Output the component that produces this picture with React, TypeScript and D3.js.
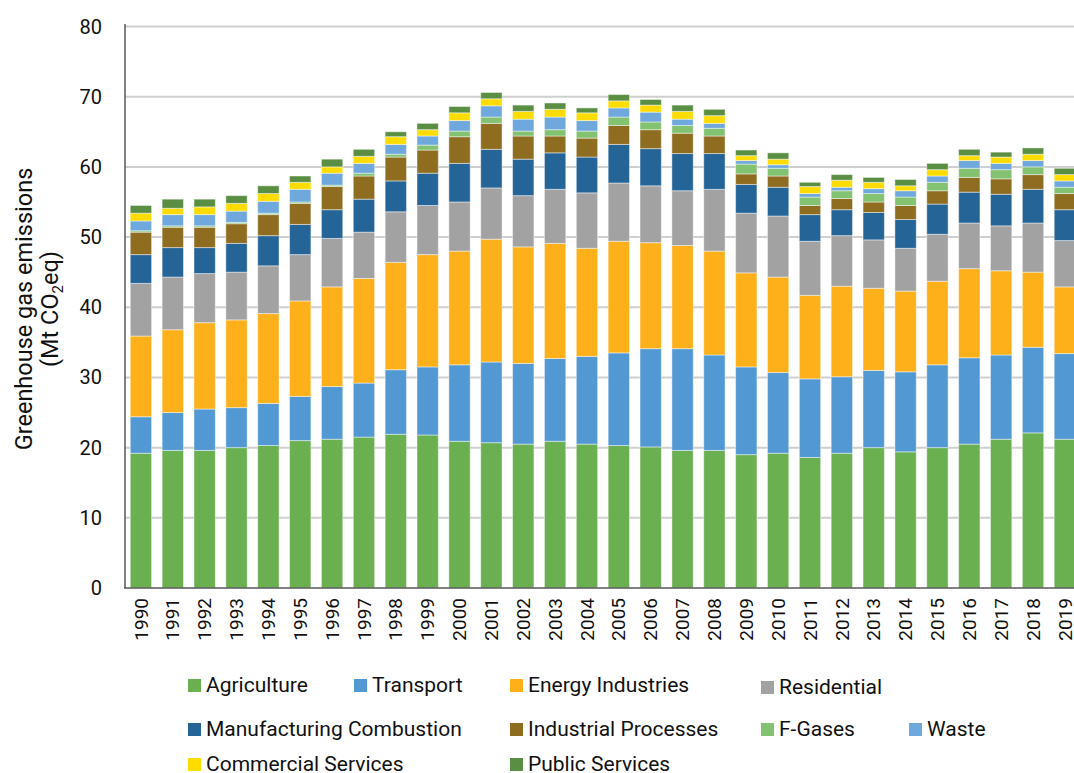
import React from "react";
import * as d3 from "d3";

const years = [
  "1990", "1991", "1992", "1993", "1994", "1995", "1996", "1997", "1998", "1999",
  "2000", "2001", "2002", "2003", "2004", "2005", "2006", "2007", "2008", "2009",
  "2010", "2011", "2012", "2013", "2014", "2015", "2016", "2017", "2018", "2019",
];

const agriculture = [19.2, 19.6, 19.6, 20.0, 20.3, 21.0, 21.2, 21.5, 21.9, 21.8, 20.9, 20.7, 20.5, 20.9, 20.5, 20.3, 20.1, 19.6, 19.6, 19.0, 19.2, 18.6, 19.2, 20.0, 19.4, 20.0, 20.5, 21.2, 22.1, 21.2];
const transport = [5.2, 5.4, 5.9, 5.7, 6.0, 6.3, 7.5, 7.7, 9.2, 9.7, 10.9, 11.5, 11.5, 11.8, 12.5, 13.2, 14.0, 14.5, 13.6, 12.5, 11.5, 11.2, 10.9, 11.0, 11.4, 11.8, 12.3, 12.0, 12.2, 12.2];
const energyIndustries = [11.5, 11.8, 12.3, 12.5, 12.8, 13.6, 14.2, 14.9, 15.3, 16.0, 16.2, 17.5, 16.6, 16.4, 15.4, 15.9, 15.1, 14.7, 14.8, 13.4, 13.6, 11.9, 12.9, 11.7, 11.5, 11.9, 12.7, 12.0, 10.7, 9.5];
const residential = [7.5, 7.5, 7.0, 6.8, 6.8, 6.6, 6.9, 6.6, 7.2, 7.0, 7.0, 7.3, 7.3, 7.7, 7.9, 8.3, 8.1, 7.8, 8.8, 8.5, 8.7, 7.7, 7.2, 6.9, 6.1, 6.7, 6.5, 6.4, 7.0, 6.6];
const manufacturing = [4.1, 4.2, 3.7, 4.1, 4.3, 4.3, 4.1, 4.7, 4.4, 4.6, 5.5, 5.5, 5.2, 5.2, 5.1, 5.5, 5.3, 5.3, 5.1, 4.1, 4.1, 3.8, 3.7, 3.9, 4.1, 4.3, 4.4, 4.5, 4.8, 4.4];
const industrialProcesses = [3.2, 2.9, 2.9, 2.8, 3.0, 3.0, 3.3, 3.3, 3.4, 3.3, 3.8, 3.7, 3.3, 2.4, 2.7, 2.7, 2.7, 2.9, 2.5, 1.5, 1.6, 1.3, 1.6, 1.5, 2.0, 1.9, 2.1, 2.2, 2.1, 2.3];
const fGases = [0.2, 0.2, 0.2, 0.2, 0.2, 0.2, 0.2, 0.4, 0.4, 0.7, 0.8, 0.9, 0.7, 0.9, 1.0, 1.2, 1.1, 1.1, 1.1, 1.4, 1.1, 1.2, 1.1, 1.2, 1.2, 1.2, 1.3, 1.3, 1.1, 0.9];
const waste = [1.4, 1.6, 1.6, 1.6, 1.7, 1.8, 1.7, 1.4, 1.4, 1.3, 1.5, 1.6, 1.7, 1.8, 1.5, 1.3, 1.4, 0.9, 0.7, 0.5, 0.5, 0.5, 0.5, 0.7, 0.9, 0.9, 1.1, 0.9, 0.9, 0.9];
const commercialServices = [1.1, 0.9, 1.1, 1.1, 1.1, 1.0, 0.9, 1.0, 1.1, 0.9, 1.1, 1.0, 1.1, 1.1, 1.1, 1.0, 1.0, 1.1, 1.1, 0.7, 0.8, 1.0, 1.0, 0.9, 0.7, 0.9, 0.7, 0.9, 0.9, 0.9];
const publicServices = [1.1, 1.3, 1.1, 1.1, 1.1, 0.9, 1.1, 1.0, 0.7, 0.9, 0.9, 0.9, 0.9, 0.9, 0.7, 0.9, 0.8, 0.9, 0.9, 0.8, 0.9, 0.6, 0.8, 0.7, 0.9, 0.9, 0.9, 0.7, 0.9, 0.9];

const seriesNames = [
  "Agriculture", "Transport", "Energy Industries", "Residential", "Manufacturing Combustion",
  "Industrial Processes", "F-Gases", "Waste", "Commercial Services", "Public Services",
];
const seriesValues = [
  agriculture, transport, energyIndustries, residential, manufacturing,
  industrialProcesses, fGases, waste, commercialServices, publicServices,
];
const colors = [
  "#6aaf50", "#5299d3", "#fdb019", "#a2a2a2", "#256496",
  "#8e6d21", "#82c270", "#6fa8dc", "#ffdc00", "#5a8e43",
];
const yTicks = [0, 10, 20, 30, 40, 50, 60, 70, 80];

// legend layout: [column x, row y] per series
const legendPos: [number, number][] = [
  [188, 685], [354, 685], [510, 685], [761, 687],
  [188, 729], [510, 729], [761, 729], [909, 729],
  [188, 764], [510, 764],
];

const W = 1074;
const H = 773;
const FONT = "Roboto, 'DejaVu Sans', sans-serif";

export default function App() {
  const x = d3.scaleBand<string>()
    .domain(years)
    .range([125, 125 + 30 * 31.86])
    .paddingInner(0.33)
    .paddingOuter(0.165);
  const y = d3.scaleLinear().domain([0, 80]).range([588, 26.5]);

  const table = years.map((yr, i) => {
    const row: Record<string, any> = { year: yr };
    seriesNames.forEach((n, k) => (row[n] = seriesValues[k][i]));
    return row;
  });
  const stacked = d3.stack<any>().keys(seriesNames)(table);

  return (
    <svg width={W} height={H} style={{ position: "absolute", left: 0, top: 0, background: "#fff" }} fontFamily={FONT}>
      {yTicks.filter((t) => t > 0).map((t) => (
        <line key={t} x1={125} x2={W} y1={y(t)} y2={y(t)} stroke="#cfcfcf" strokeWidth={2} />
      ))}
      {stacked.map((s, k) => (
        <g key={s.key} fill={colors[k]}>
          {s.map((d, i) => (
            <rect
              key={i}
              x={x(years[i])}
              width={x.bandwidth()}
              y={y(d[1])}
              height={Math.max(0, y(d[0]) - y(d[1]))}
              stroke="#ffffff"
              strokeOpacity={0.45}
              strokeWidth={1}
            />
          ))}
        </g>
      ))}
      <line x1={125} x2={125} y1={24} y2={588} stroke="#595959" strokeWidth={1.5} />
      <line x1={124} x2={W} y1={588} y2={588} stroke="#595959" strokeWidth={1.5} />
      {yTicks.map((t) => (
        <text key={t} x={102} y={y(t)} dy="0.35em" textAnchor="end" fontSize={20} fill="#111">
          {t}
        </text>
      ))}
      {years.map((yr) => (
        <text
          key={yr}
          transform={`translate(${(x(yr) as number) + x.bandwidth() / 2},598) rotate(-90)`}
          dy="0.35em"
          textAnchor="end"
          fontSize={19}
          fill="#111"
        >
          {yr}
        </text>
      ))}
      <g transform="translate(24,309) rotate(-90)" fontSize={23.5} fill="#111" textAnchor="middle">
        <text dy="0.35em">Greenhouse gas emissions</text>
        <text y={26} dy="0.35em">
          (Mt CO<tspan fontSize={15} dy={5}>2</tspan>
          <tspan dy={-5}>eq)</tspan>
        </text>
      </g>
      {seriesNames.map((n, k) => (
        <g key={n} transform={`translate(${legendPos[k][0]},${legendPos[k][1]})`}>
          <rect x={0} y={-6} width={13} height={13} fill={colors[k]} />
          <text x={18} dy="0.35em" fontSize={21} fill="#111">
            {n}
          </text>
        </g>
      ))}
    </svg>
  );
}
